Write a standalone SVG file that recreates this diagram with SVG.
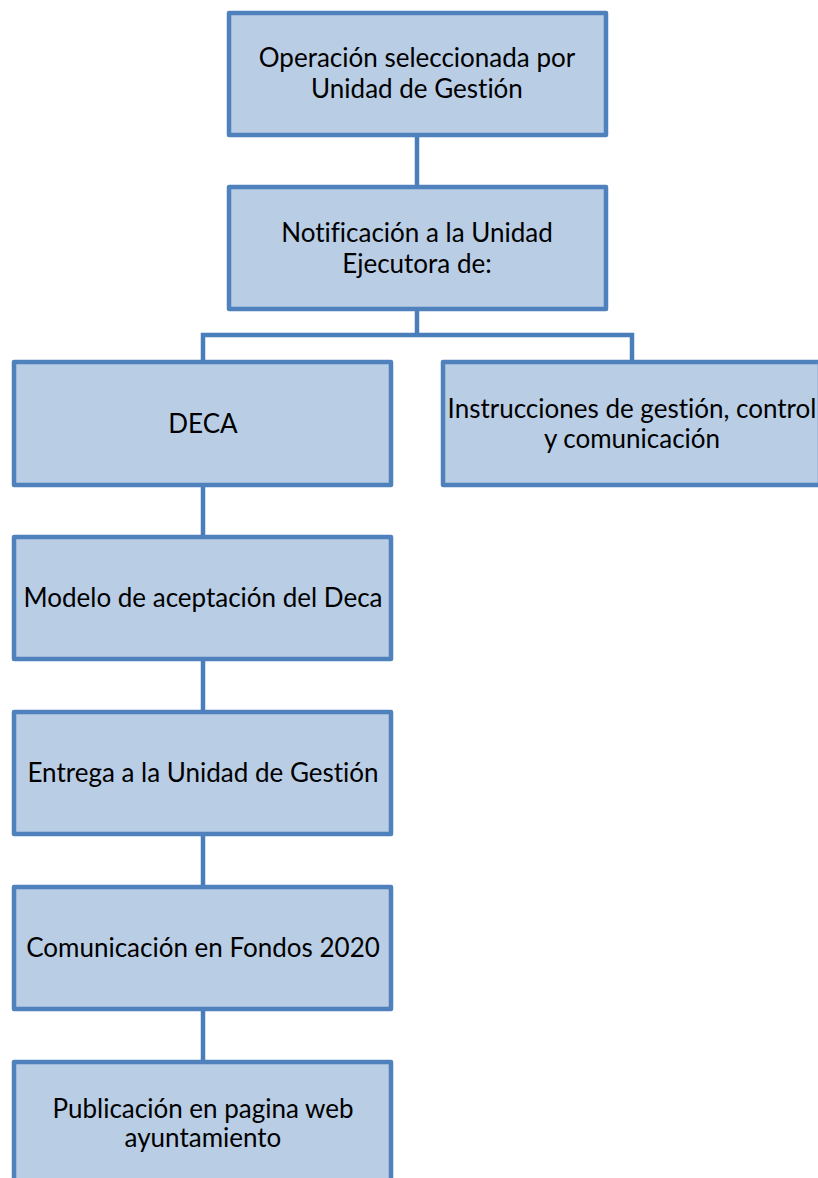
<svg xmlns="http://www.w3.org/2000/svg" width="818" height="1178" viewBox="0 0 818 1178">
<style>
.box{fill:#B9CDE5;stroke:#4F81BD;stroke-width:4.5;stroke-linejoin:round}
.t{font-family:Lato,"Open Sans",sans-serif;font-size:26px;fill:#000;text-anchor:middle;font-variant-ligatures:none}
.c{stroke:#4A7EBB;stroke-width:4.5;fill:none}
</style>
<rect width="818" height="1178" fill="#fff"/>
<g id="connectors">
<line class="c" x1="417" y1="137" x2="417" y2="185"/>
<polyline class="c" points="203,360 203,335 417,335 632,335 632,360"/>
<line class="c" x1="417" y1="311" x2="417" y2="335"/>
<line class="c" x1="203" y1="487" x2="203" y2="535"/>
<line class="c" x1="203" y1="661" x2="203" y2="710"/>
<line class="c" x1="203" y1="836" x2="203" y2="885"/>
<line class="c" x1="203" y1="1011" x2="203" y2="1060"/>
</g>
<g id="n1"><rect class="box" x="229" y="13" width="377" height="122"/>
<text class="t" x="417" y="67">Operación seleccionada por</text><text class="t" x="417" y="98">Unidad de Gestión</text></g>
<g id="n2"><rect class="box" x="229" y="187" width="377" height="122"/>
<text class="t" x="417" y="242">Notificación a la Unidad</text><text class="t" x="417" y="273">Ejecutora de:</text></g>
<g id="n3"><rect class="box" x="14" y="362" width="377" height="123"/>
<text class="t" x="203" y="433">DECA</text></g>
<g id="n4"><rect class="box" x="443" y="362" width="377" height="123"/>
<text class="t" x="632" y="418">Instrucciones de gestión, control</text><text class="t" x="632" y="448">y comunicación</text></g>
<g id="n5"><rect class="box" x="14" y="537" width="377" height="122"/>
<text class="t" x="203" y="607">Modelo de aceptación del Deca</text></g>
<g id="n6"><rect class="box" x="14" y="712" width="377" height="122"/>
<text class="t" x="203" y="782">Entrega a la Unidad de Gestión</text></g>
<g id="n7"><rect class="box" x="14" y="887" width="377" height="122"/>
<text class="t" x="203" y="957">Comunicación en Fondos 2020</text></g>
<g id="n8"><rect class="box" x="14" y="1062" width="377" height="122"/>
<text class="t" x="203" y="1118">Publicación en pagina web</text><text class="t" x="203" y="1147">ayuntamiento</text></g>
</svg>
